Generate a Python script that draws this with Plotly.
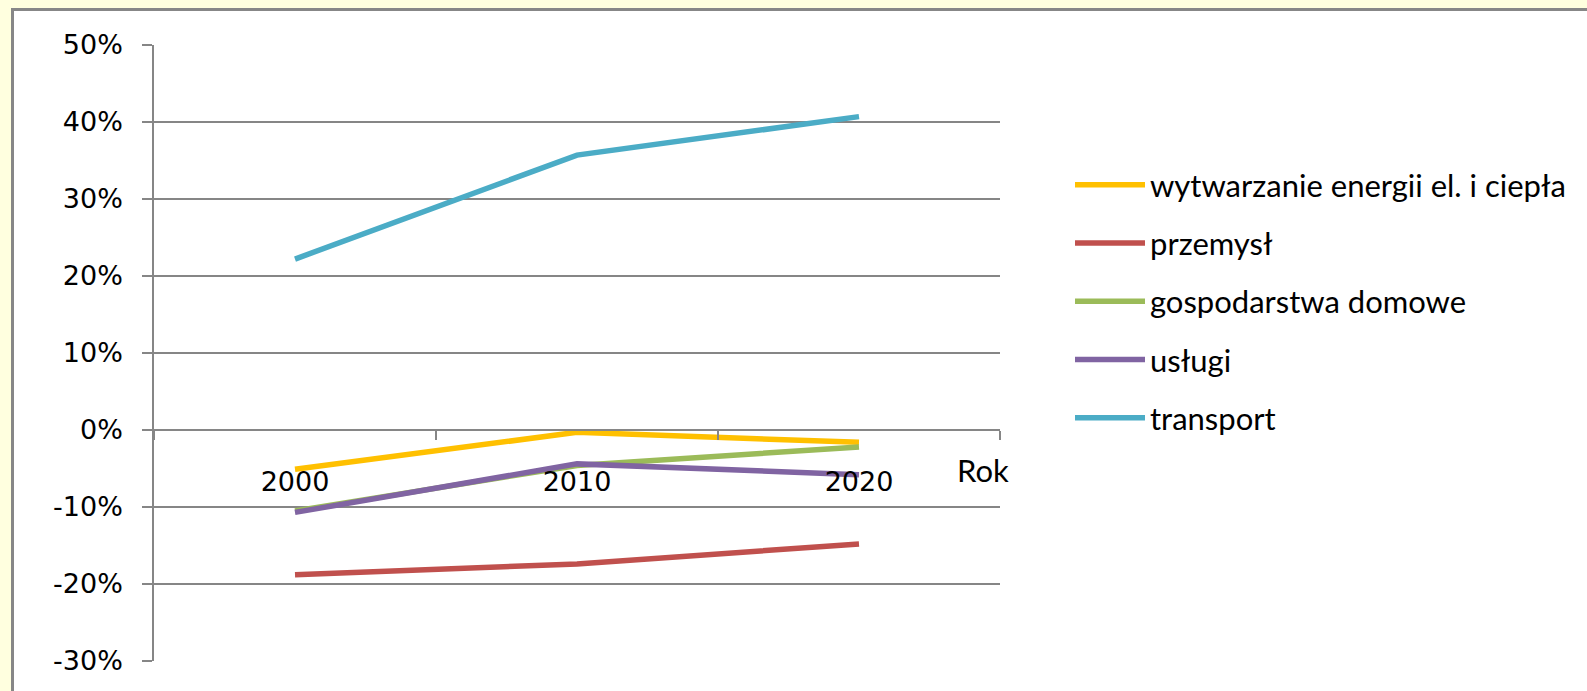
import plotly.graph_objects as go

years = ["2000", "2010", "2020"]
series_names = [
    "wytwarzanie energii el. i ciepła",
    "przemysł",
    "gospodarstwa domowe",
    "usługi",
    "transport",
]
wytwarzanie = [-0.051, -0.003, -0.016]
przemysl = [-0.188, -0.174, -0.148]
gospodarstwa = [-0.105, -0.046, -0.022]
uslugi = [-0.107, -0.044, -0.058]
transport = [0.222, 0.357, 0.407]
colors = ["#FFC000", "#C0504D", "#9BBB59", "#8064A2", "#4BACC6"]
y_ticks = [-0.3, -0.2, -0.1, 0.0, 0.1, 0.2, 0.3, 0.4, 0.5]
y_ticktext = [f"{round(v * 100):d}%" for v in y_ticks]
x_title = "Rok"

W, H = 1587, 691
L, R, T, B = 154, 587, 45, 30
pw, ph = W - L - R, H - T - B

fig = go.Figure()
for i, (name, vals) in enumerate(zip(series_names,
                                     [wytwarzanie, przemysl, gospodarstwa, uslugi, transport])):
    fig.add_trace(go.Scatter(
        x=years, y=vals, name=name, mode="lines",
        line=dict(color=colors[i], width=5.5),
        legendgroup=f"g{i}",
    ))

grid = "#868686"
ymin, ymax = y_ticks[0], y_ticks[-1]
fig.update_layout(
    width=W, height=H,
    margin=dict(l=L, r=R, t=T, b=B, pad=0),
    paper_bgcolor="#FFFFDF",
    plot_bgcolor="white",
    showlegend=True,
    legend=dict(
        x=(1070 - L) / pw, y=(H - B - 158) / ph, xanchor="left", yanchor="top",
        font=dict(family="Lato", size=31, color="black"),
        bgcolor="rgba(0,0,0,0)", tracegroupgap=15, itemwidth=70,
    ),
    xaxis=dict(
        type="category", range=[-0.5, 2.5], anchor="free",
        position=(0 - ymin) / (ymax - ymin),
        showgrid=False, showline=True, linecolor=grid, linewidth=1.5,
        ticks="outside", ticklen=9, tickcolor=grid, tickwidth=1.5,
        tickson="boundaries", ticklabelstandoff=28,
        tickfont=dict(family="DejaVu Sans", size=27, color="black"),
        zeroline=False,
    ),
    yaxis=dict(
        range=[ymin, ymax], tickvals=y_ticks, ticktext=y_ticktext,
        showgrid=True, gridcolor=grid, gridwidth=1.5,
        showline=True, linecolor=grid, linewidth=1.5,
        ticks="outside", ticklen=10, tickcolor=grid, tickwidth=1.5,
        ticklabelstandoff=14, zeroline=False,
        tickfont=dict(family="DejaVu Sans", size=27, color="black"),
    ),
    shapes=[dict(
        type="rect", xref="paper", yref="paper", layer="below",
        x0=(12.5 - L) / pw, x1=(W + 20 - L) / pw,
        y0=(H - B - (H + 20)) / ph, y1=(H - B - 9.5) / ph,
        fillcolor="white", line=dict(color="#878787", width=3),
    )],
    annotations=[dict(
        text=x_title, xref="paper", yref="paper",
        x=(955 - L) / pw, y=(H - B - 470) / ph, xanchor="left", yanchor="middle",
        showarrow=False, font=dict(family="Lato", size=31, color="black"),
    )],
)

fig.write_html(
    "out.html",
    config={"displayModeBar": False},
    post_script="document.body.style.margin='0';document.body.style.background='#FFFFDF';",
)
